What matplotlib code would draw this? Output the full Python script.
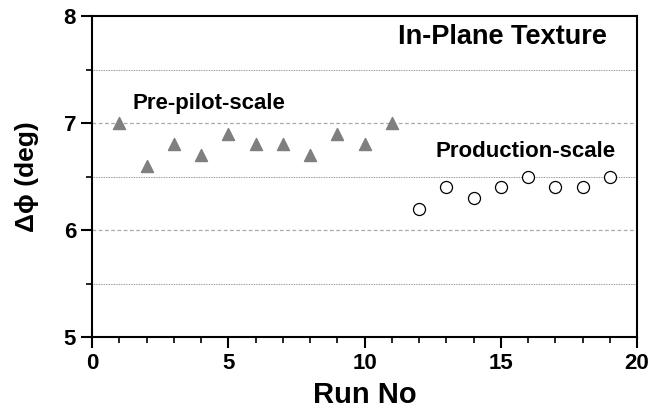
import numpy as np
import matplotlib.pyplot as plt
from matplotlib.ticker import MultipleLocator

plt.rcParams['font.family'] = ['Liberation Sans', 'DejaVu Sans']
plt.rcParams['font.weight'] = 'bold'

pilot_run = [1, 2, 3, 4, 5, 6, 7, 8, 9, 10, 11]
pilot_dphi = [7.0, 6.6, 6.8, 6.7, 6.9, 6.8, 6.8, 6.7, 6.9, 6.8, 7.0]
prod_run = [12, 13, 14, 15, 16, 17, 18, 19]
prod_dphi = [6.2, 6.4, 6.3, 6.4, 6.5, 6.4, 6.4, 6.5]

fig = plt.figure(figsize=(6.49, 4.08), dpi=100)
ax = fig.add_axes([92/649, 1-337/408, 545/649, 321/408])

# grid lines
for y in [6, 7]:
    ax.axhline(y, color='#aaaaaa', lw=0.9, ls=(0, (3, 2)), zorder=0)
for y in [5.5, 6.5, 7.5]:
    ax.axhline(y, color='#777777', lw=0.6, ls=(0, (1, 1)), zorder=0)

ax.scatter(pilot_run, pilot_dphi, marker='^', s=75, color='#7f7f7f', zorder=3)
ax.scatter(prod_run, prod_dphi, marker='o', s=75, facecolors='white',
           edgecolors='black', linewidths=0.9, zorder=3)

ax.set_xlim(0, 20)
ax.set_ylim(5, 8)
ax.xaxis.set_major_locator(MultipleLocator(5))
ax.xaxis.set_minor_locator(MultipleLocator(1))
ax.yaxis.set_major_locator(MultipleLocator(1))
ax.yaxis.set_minor_locator(MultipleLocator(0.5))
ax.tick_params(which='major', direction='out', length=8, width=1.5, labelsize=16)
ax.tick_params(which='minor', direction='out', length=4, width=1.2)
for s in ax.spines.values():
    s.set_linewidth(1.5)

ax.set_xlabel('Run No', fontsize=21, fontweight='bold', labelpad=5)
ax.set_ylabel('Δϕ (deg)', fontsize=19, fontweight='bold', labelpad=18)

ax.text(1.5, 7.18, 'Pre-pilot-scale', fontsize=16, fontweight='bold', va='center')
ax.text(18.9, 7.80, 'In-Plane Texture', fontsize=19.5, fontweight='bold',
        va='center', ha='right')
ax.text(19.2, 6.73, 'Production-scale', fontsize=16, fontweight='bold',
        va='center', ha='right')

fig.savefig('out.png', dpi=100)
